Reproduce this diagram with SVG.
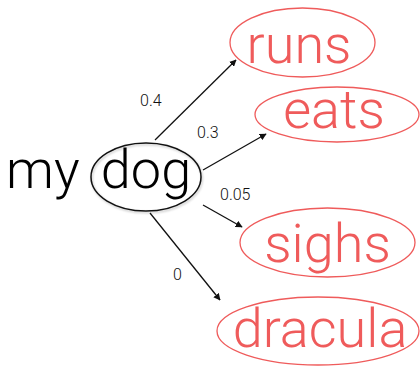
<svg xmlns="http://www.w3.org/2000/svg" width="420" height="367" viewBox="0 0 420 367">
  <style>
    .word { font-family: Roboto, "Liberation Sans", Arial, sans-serif; font-weight: 300; font-size: 54px; text-anchor: middle; }
    .next { fill: #ef5b5b; }
    .ring { fill: none; stroke: #ef5b5b; stroke-width: 1.3; }
    .ctx { fill: none; stroke: #111; stroke-width: 1.5; }
    .prob { font-family: Roboto, "Liberation Sans", Arial, sans-serif; font-weight: 300; font-size: 16px; fill: #111; }
    .edge { stroke: #111; stroke-width: 1.3; fill: none; marker-end: url(#head); }
  </style>
  <defs>
    <marker id="head" viewBox="0 0 10 10" refX="9" refY="5" markerWidth="7" markerHeight="7" orient="auto" markerUnits="userSpaceOnUse">
      <path d="M0,0 L10,5 L0,10 Z" fill="#111"/>
    </marker>
    <filter id="soft" x="-10%" y="-10%" width="130%" height="130%">
      <feGaussianBlur stdDeviation="1"/>
    </filter>
  </defs>

  <!-- context words -->
  <g id="context">
    <text class="word" x="6" y="188" style="text-anchor:start">my</text>
    <ellipse cx="147" cy="178.5" rx="55" ry="34" fill="none" stroke="#888" stroke-width="1.5" opacity="0.5" filter="url(#soft)"/>
    <ellipse class="ctx" cx="146" cy="177" rx="55" ry="34"/>
    <text class="word" x="146" y="188">dog</text>
  </g>

  <!-- candidate next words -->
  <g id="runs">
    <ellipse class="ring" cx="302.5" cy="42.5" rx="72.5" ry="34.5"/>
    <text class="word next" x="299" y="63">runs</text>
  </g>
  <g id="eats">
    <ellipse class="ring" cx="337" cy="114.5" rx="82" ry="27.5"/>
    <text class="word next" x="334" y="128">eats</text>
  </g>
  <g id="sighs">
    <ellipse class="ring" cx="327.5" cy="242.5" rx="87.5" ry="34.5"/>
    <text class="word next" x="327.5" y="262">sighs</text>
  </g>
  <g id="dracula">
    <ellipse class="ring" cx="318" cy="331" rx="101" ry="34"/>
    <text class="word next" x="320" y="347">dracula</text>
  </g>

  <!-- transitions with probabilities -->
  <g id="connectors">
    <line class="edge" x1="155" y1="140" x2="236" y2="60"/>
    <line class="edge" x1="203" y1="170" x2="266" y2="134"/>
    <line class="edge" x1="203" y1="205" x2="242" y2="227"/>
    <line class="edge" x1="150" y1="213" x2="220" y2="300"/>
    <text class="prob" x="140" y="106">0.4</text>
    <text class="prob" x="197" y="138">0.3</text>
    <text class="prob" x="220" y="200">0.05</text>
    <text class="prob" x="173" y="280">0</text>
  </g>
</svg>
